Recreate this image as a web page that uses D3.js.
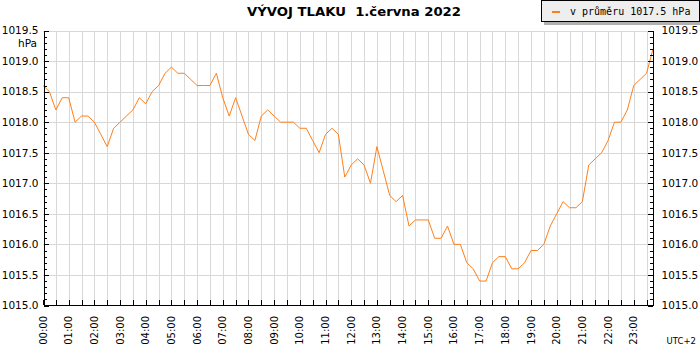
<!doctype html>
<html>
<head>
<meta charset="utf-8">
<script src="https://cdnjs.cloudflare.com/ajax/libs/d3/7.8.5/d3.min.js"></script>
<style>
  body { margin: 0; background: #fff; }
  svg { display: block; }
  .tick text { font-family: "DejaVu Sans", sans-serif; fill: #000; }
</style>
</head>
<body>
<svg width="700" height="350"></svg>
<script>
// readings every 15 minutes, 1 June 2022 (UTC+2)
var times = [
  "00:00","00:15","00:30","00:45","01:00","01:15","01:30","01:45",
  "02:00","02:15","02:30","02:45","03:00","03:15","03:30","03:45",
  "04:00","04:15","04:30","04:45","05:00","05:15","05:30","05:45",
  "06:00","06:15","06:30","06:45","07:00","07:15","07:30","07:45",
  "08:00","08:15","08:30","08:45","09:00","09:15","09:30","09:45",
  "10:00","10:15","10:30","10:45","11:00","11:15","11:30","11:45",
  "12:00","12:15","12:30","12:45","13:00","13:15","13:30","13:45",
  "14:00","14:15","14:30","14:45","15:00","15:15","15:30","15:45",
  "16:00","16:15","16:30","16:45","17:00","17:15","17:30","17:45",
  "18:00","18:15","18:30","18:45","19:00","19:15","19:30","19:45",
  "20:00","20:15","20:30","20:45","21:00","21:15","21:30","21:45",
  "22:00","22:15","22:30","22:45","23:00","23:15","23:30","23:45"
];
var pressure = [
  1018.6,1018.5,1018.2,1018.4,1018.4,1018.0,1018.1,1018.1,
  1018.0,1017.8,1017.6,1017.9,1018.0,1018.1,1018.2,1018.4,
  1018.3,1018.5,1018.6,1018.8,1018.9,1018.8,1018.8,1018.7,
  1018.6,1018.6,1018.6,1018.8,1018.4,1018.1,1018.4,1018.1,
  1017.8,1017.7,1018.1,1018.2,1018.1,1018.0,1018.0,1018.0,
  1017.9,1017.9,1017.7,1017.5,1017.8,1017.9,1017.8,1017.1,
  1017.3,1017.4,1017.3,1017.0,1017.6,1017.2,1016.8,1016.7,
  1016.8,1016.3,1016.4,1016.4,1016.4,1016.1,1016.1,1016.3,
  1016.0,1016.0,1015.7,1015.6,1015.4,1015.4,1015.7,1015.8,
  1015.8,1015.6,1015.6,1015.7,1015.9,1015.9,1016.0,1016.3,
  1016.5,1016.7,1016.6,1016.6,1016.7,1017.3,1017.4,1017.5,
  1017.7,1018.0,1018.0,1018.2,1018.6,1018.7,1018.8,1019.2
];
var hourLabels = ["00:00","01:00","02:00","03:00","04:00","05:00","06:00","07:00",
  "08:00","09:00","10:00","11:00","12:00","13:00","14:00","15:00",
  "16:00","17:00","18:00","19:00","20:00","21:00","22:00","23:00"];
var yMajor = [1015.0,1015.5,1016.0,1016.5,1017.0,1017.5,1018.0,1018.5,1019.0,1019.5];
var title = "VÝVOJ TLAKU  1.června 2022";
var legendText = "v průměru 1017.5 hPa";

function toHours(t) {
  var p = t.split(":");
  return +p[0] + p[1] / 60;
}
var data = times.map((t, i) => ({h: toHours(t), p: pressure[i]}));

var svg = d3.select("svg");
var plotL = 43, plotR = 653, plotT = 30.5, plotB = 305.5;

var x = d3.scaleLinear().domain([0, toHours(times[times.length - 1])]).range([plotL, plotR]);
var y = d3.scaleLinear().domain([1015, 1019.5]).range([plotB, plotT]);

var halfHours = d3.range(0, 24, 0.5).filter(h => x(h) <= plotR);
var minorY = d3.range(10150, 10196, 1).map(v => v / 10);

// grid
var grid = svg.append("g").attr("shape-rendering", "crispEdges");
grid.selectAll(".gx").data(halfHours.slice(1)).enter().append("line")
  .attr("x1", d => Math.round(x(d)) + 0.5).attr("x2", d => Math.round(x(d)) + 0.5)
  .attr("y1", plotT).attr("y2", plotB)
  .style("stroke", "#d8d8d8");
grid.selectAll(".gy").data(yMajor.slice(1)).enter().append("line")
  .attr("x1", plotL).attr("x2", plotR)
  .attr("y1", d => Math.round(y(d)) + 0.5).attr("y2", d => Math.round(y(d)) + 0.5)
  .style("stroke", "#d8d8d8");

// pressure line
var line = d3.line().x(d => x(d.h)).y(d => y(d.p));
svg.append("path").datum(data)
  .attr("d", line)
  .style("fill", "none")
  .style("stroke", "#ff7f1a")
  .style("stroke-width", 1);

// axes
var fmt = d3.format(".1f");
function styleAxis(g) {
  g.attr("shape-rendering", "crispEdges");
  g.selectAll("path, line").style("stroke", "#000");
  g.selectAll("text").style("font-size", "10.5px");
}
svg.append("g").attr("transform", "translate(" + (plotL + 0.5) + ",0)")
  .call(d3.axisLeft(y).tickValues(minorY).tickSizeInner(-3).tickSizeOuter(0).tickFormat(""))
  .call(styleAxis);
svg.append("g").attr("transform", "translate(" + (plotL + 0.5) + ",0)")
  .call(d3.axisLeft(y).tickValues(yMajor).tickSizeInner(-5).tickSizeOuter(0).tickPadding(5).tickFormat(fmt))
  .call(styleAxis);
svg.append("g").attr("transform", "translate(" + (plotR - 0.5) + ",0)")
  .call(d3.axisRight(y).tickValues(minorY).tickSizeInner(-3).tickSizeOuter(0).tickFormat(""))
  .call(styleAxis);
svg.append("g").attr("transform", "translate(" + (plotR - 0.5) + ",0)")
  .call(d3.axisRight(y).tickValues(yMajor).tickSizeInner(-5).tickSizeOuter(0).tickPadding(9).tickFormat(fmt))
  .call(styleAxis);
svg.append("g").attr("transform", "translate(0," + (plotB - 0.5) + ")")
  .call(d3.axisBottom(x).tickValues(halfHours).tickSizeInner(-5).tickSizeOuter(0).tickFormat(""))
  .call(styleAxis);

// hour labels
svg.append("g").selectAll("text").data(hourLabels).enter().append("text")
  .attr("transform", d => "translate(" + x(toHours(d)) + ",316) rotate(-90)")
  .attr("text-anchor", "end")
  .attr("dy", "0.35em")
  .style("font-family", "DejaVu Sans, sans-serif")
  .style("font-size", "10px")
  .text(d => d);

svg.append("text").attr("x", 37).attr("y", 47).attr("text-anchor", "end")
  .style("font-family", "DejaVu Sans, sans-serif").style("font-size", "10.5px")
  .text("hPa");
svg.append("text").attr("x", 696).attr("y", 344).attr("text-anchor", "end")
  .style("font-family", "DejaVu Sans, sans-serif").style("font-size", "8.5px")
  .text("UTC+2");

// title
svg.append("text").attr("x", 247).attr("y", 16)
  .attr("textLength", 214).attr("lengthAdjust", "spacingAndGlyphs")
  .style("font-family", "DejaVu Sans, sans-serif").style("font-size", "12.5px").style("font-weight", "bold")
  .style("white-space", "pre")
  .text(title);

// legend
var lg = svg.append("g").attr("shape-rendering", "crispEdges");
lg.append("rect").attr("x", 544).attr("y", 3).attr("width", 160).attr("height", 22).style("fill", "#b0b0b0");
lg.append("rect").attr("x", 541.5).attr("y", 0.5).attr("width", 158).attr("height", 21)
  .style("fill", "#eeeeee").style("stroke", "#000");
lg.append("line").attr("x1", 552).attr("x2", 560).attr("y1", 11.5).attr("y2", 11.5)
  .style("stroke", "#ff7f1a").style("stroke-width", 2);
lg.append("text").attr("x", 570).attr("y", 15)
  .style("font-family", "DejaVu Sans Mono, monospace").style("font-size", "10px")
  .text(legendText);
</script>
</body>
</html>
